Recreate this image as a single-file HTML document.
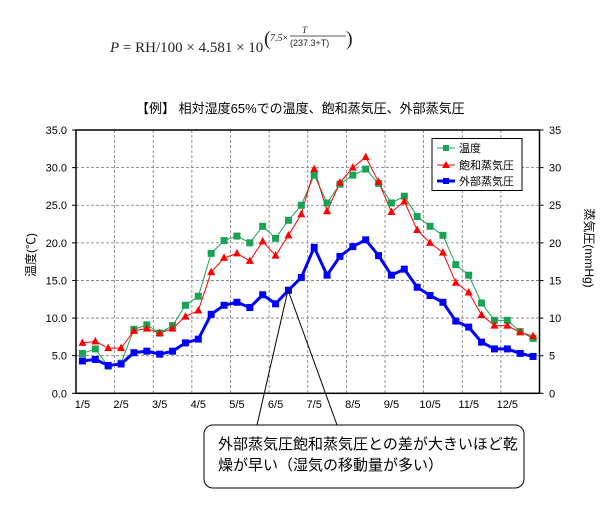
<!DOCTYPE html>
<html><head><meta charset="utf-8"><style>
html,body{margin:0;padding:0;background:#fff;}
svg{display:block;}
</style></head><body>
<svg id="s" width="616" height="515" xmlns="http://www.w3.org/2000/svg" font-family="Liberation Sans, Noto Sans CJK JP, sans-serif">
<rect width="616" height="515" fill="#fff"/>
<text x="110" y="52" font-family="Liberation Serif, serif" font-size="15" fill="#222"><tspan font-style="italic">P</tspan> = RH/100 × 4.581 × 10</text>
<text x="264" y="45" font-family="Liberation Serif, serif" font-size="20" fill="#222">(</text>
<text x="270" y="41" font-family="Liberation Serif, serif" font-size="10" fill="#222"><tspan font-style="italic">7.5</tspan>×</text>
<text x="302" y="33" font-family="Liberation Serif, serif" font-size="9" font-style="italic" fill="#222">T</text>
<line x1="290" y1="36" x2="346" y2="36" stroke="#222" stroke-width="0.7"/>
<text x="290" y="46" font-family="Liberation Sans, sans-serif" font-size="9" fill="#222">(237.3+T)</text>
<text x="346" y="45" font-family="Liberation Serif, serif" font-size="20" fill="#222">)</text>
<text x="136" y="113" font-size="13" fill="#000" font-family="Liberation Sans, Noto Sans CJK JP, sans-serif">【例】 相対湿度65%での温度、飽和蒸気圧、外部蒸気圧</text>
<g id="grid"></g>
<rect x="76" y="130" width="463.5" height="263.3" fill="none" stroke="#000" stroke-width="1.5"/>
<g id="series"></g>
<g font-size="11" fill="#000" id="labels"></g>
<text transform="translate(35,255) rotate(-90)" text-anchor="middle" font-size="12">温度(℃)</text>
<text transform="translate(585,248) rotate(90)" text-anchor="middle" font-size="12">蒸気圧(mmHg)</text>
<rect x="432" y="138.5" width="90" height="52" fill="#fff" stroke="#000" stroke-width="1"/>
<line x1="437" y1="148" x2="455" y2="148" stroke="#1aa355" stroke-width="1"/><rect x="443" y="145" width="6" height="6" fill="#1aa355"/>
<text x="459" y="152" font-size="11">温度</text>
<line x1="437" y1="165" x2="455" y2="165" stroke="#f00" stroke-width="1"/><polygon points="446,161 450,168 442,168" fill="#f00"/>
<text x="459" y="169" font-size="11">飽和蒸気圧</text>
<line x1="437" y1="181" x2="455" y2="181" stroke="#0000ff" stroke-width="3"/><rect x="443" y="178" width="6" height="6" fill="#0000ff"/>
<text x="459" y="185" font-size="11">外部蒸気圧</text>
<line x1="257" y1="425" x2="288" y2="290" stroke="#000" stroke-width="1"/>
<line x1="337" y1="425" x2="288" y2="290" stroke="#000" stroke-width="1"/>
<rect x="204" y="425" width="320" height="63" rx="9" fill="#fff" stroke="#000" stroke-width="1"/>
<text x="218" y="449" font-size="15">外部蒸気圧飽和蒸気圧との差が大きいほど乾</text>
<text x="218" y="470" font-size="15">燥が早い（湿気の移動量が多い）</text>
</svg>
<script>
const NS="http://www.w3.org/2000/svg";
const L=76,R=539.5,T=130,B=393.3,w=(R-L)/36,k=(B-T)/35;
const X=i=>L+w*(i+0.5),Y=v=>B-v*k;
function el(t,a,p){const e=document.createElementNS(NS,t);for(const n in a)e.setAttribute(n,a[n]);if(a._t){e.textContent=a._t;e.removeAttribute('_t');}document.getElementById(p).appendChild(e);return e;}
for(let j=1;j<7;j++)el('line',{x1:L,x2:R,y1:Y(j*5),y2:Y(j*5),stroke:'#777','stroke-dasharray':'3,2','stroke-width':0.8},'grid');
for(let j=1;j<12;j++){const x=L+3*j*w;el('line',{x1:x,x2:x,y1:T,y2:B,stroke:'#777','stroke-dasharray':'3,2','stroke-width':0.8},'grid');}
for(let j=0;j<=7;j++){el('text',{x:67,y:Y(j*5)+4,'text-anchor':'end',_t:(j*5).toFixed(1)},'labels');el('text',{x:549,y:Y(j*5)+4,_t:String(j*5)},'labels');
el('line',{x1:R,x2:R+4,y1:Y(j*5),y2:Y(j*5),stroke:'#000'},'grid');el('line',{x1:L-4,x2:L,y1:Y(j*5),y2:Y(j*5),stroke:'#000'},'grid');}
for(let m=0;m<12;m++)el('text',{x:X(3*m),y:408,'text-anchor':'middle',_t:(m+1)+'/5'},'labels');
const g=[5.3,5.9,3.6,4.0,8.5,9.1,8.0,9.0,11.7,12.9,18.6,20.3,20.9,20.0,22.2,20.6,23.0,25.0,29.0,25.3,27.8,29.0,29.8,27.9,25.3,26.2,23.5,22.2,21.0,17.1,15.7,12.0,9.7,9.7,8.2,7.3];
const r=[6.7,6.9,6.0,6.0,8.3,8.6,8.0,8.6,10.2,11.0,16.1,18.0,18.6,17.6,20.2,18.3,21.0,23.8,29.8,24.2,28.0,30.0,31.4,28.1,24.1,25.5,21.7,20.0,18.7,14.7,13.4,10.4,9.0,9.0,8.1,7.6];
const b=[4.3,4.5,3.7,3.9,5.4,5.6,5.2,5.6,6.7,7.2,10.5,11.7,12.1,11.4,13.1,11.9,13.7,15.4,19.4,15.7,18.2,19.5,20.4,18.3,15.7,16.5,14.1,13.0,12.1,9.6,8.8,6.8,5.9,5.9,5.3,4.9];
function pl(d,c,sw){el('polyline',{points:d.map((v,i)=>X(i)+','+Y(v)).join(' '),fill:'none',stroke:c,'stroke-width':sw},'series');}
pl(g,'#1aa355',1);pl(r,'#f00',1);pl(b,'#0000ff',3);
g.forEach((v,i)=>el('rect',{x:X(i)-3.5,y:Y(v)-3.5,width:7,height:7,fill:'#1aa355'},'series'));
r.forEach((v,i)=>{const x=X(i),y=Y(v);el('polygon',{points:`${x},${y-4.5} ${x+4},${y+3} ${x-4},${y+3}`,fill:'#f00'},'series');});
b.forEach((v,i)=>el('rect',{x:X(i)-3.5,y:Y(v)-3.5,width:7,height:7,fill:'#0000ff'},'series'));
</script>
</body></html>
